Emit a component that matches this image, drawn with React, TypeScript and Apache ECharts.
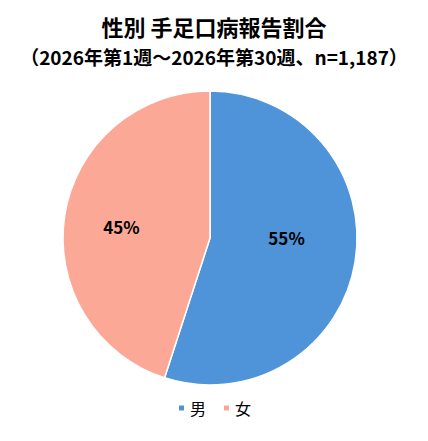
import React, { useEffect, useRef } from 'react';
import * as echarts from 'echarts';

const categories = ['男', '女'];
const shares = [55, 45];
const colors = ['#4F93D8', '#FBA996'];
const titleText = '性別 手足口病報告割合';
const subText = '（2026年第1週～2026年第30週、n=1,187）';

const App: React.FC = () => {
  const chartRef = useRef<HTMLDivElement>(null);

  useEffect(() => {
    document.body.style.margin = '0';
    if (!chartRef.current) return;
    const chart = echarts.init(chartRef.current, undefined, { renderer: 'svg' });

    const font = '"Noto Sans CJK JP", "Noto Sans", sans-serif';

    chart.setOption({
      animation: false,
      backgroundColor: '#ffffff',
      title: [
        {
          text: titleText,
          left: 'center',
          top: 15,
          padding: 0,
          textStyle: { fontFamily: font, fontSize: 22, lineHeight: 22, fontWeight: 'bold', color: '#000' },
        },
        {
          text: subText,
          left: 'center',
          top: 47,
          padding: 0,
          textStyle: { fontFamily: font, fontSize: 19, lineHeight: 19, fontWeight: 'bold', color: '#000' },
        },
      ],
      legend: {
        bottom: 20,
        left: 'center',
        icon: 'rect',
        itemWidth: 7,
        itemHeight: 7,
        itemGap: 16,
        textStyle: { fontFamily: font, fontSize: 16, color: '#000' },
        data: categories,
      },
      series: [
        {
          type: 'pie',
          center: [210, 238],
          radius: 147,
          startAngle: 90,
          clockwise: true,
          label: {
            show: true,
            position: 'inside',
            formatter: '{c}%',
            fontFamily: font,
            fontSize: 17,
            fontWeight: 'bold',
            color: '#000',
          },
          labelLine: { show: false },
          itemStyle: { borderColor: '#fff', borderWidth: 1.5 },
          emphasis: { disabled: true },
          data: categories.map((name, i) => ({
            name,
            value: shares[i],
            itemStyle: { color: colors[i] },
            label: i === 1 ? { offset: [-13, 0] } : { offset: [1, -12] },
          })),
        },
      ],
    });

    return () => {
      chart.dispose();
    };
  }, []);

  return <div ref={chartRef} style={{ width: 428, height: 441 }} />;
};

export default App;
